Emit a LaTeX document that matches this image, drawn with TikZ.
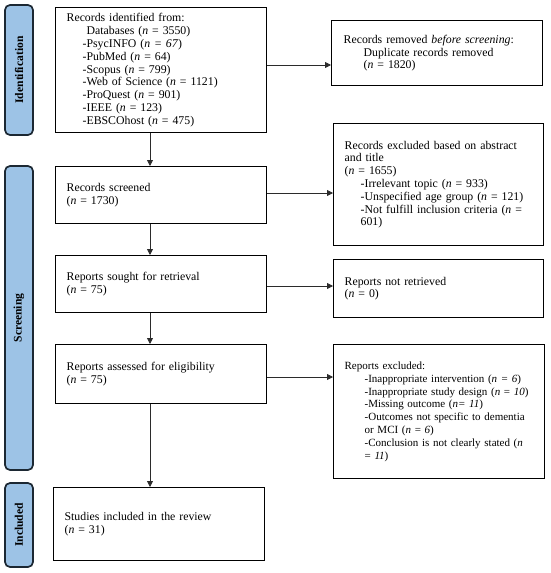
\documentclass[tikz,border=0pt]{standalone}
\usepackage{fontspec}
\setmainfont{Liberation Serif}
\usetikzlibrary{arrows.meta}
\definecolor{barfill}{HTML}{9DC3E6}
\definecolor{barline}{HTML}{1C2833}
\definecolor{arrcol}{HTML}{2B2B2B}
\newcommand{\nn}{\textit{n}}
\newcommand{\ind}{\hspace*{16pt}}
\begin{document}
\begin{tikzpicture}[x=1pt,y=-1pt,
  box/.style={draw=black, line width=1.3pt, anchor=north west, align=left,
    inner xsep=11pt, inner ysep=2pt, font=\fontsize{11.8}{12.8}\selectfont},
  smallbox/.style={box, font=\fontsize{11}{12.8}\selectfont},
  phase/.style={draw=barline, line width=1.7pt, fill=barfill, rounded corners=5pt,
    rotate=90, minimum height=28pt, inner sep=0pt, font=\bfseries\fontsize{11.6}{12}\selectfont},
  flow/.style={draw=arrcol, line width=0.8pt, -{Triangle[length=6pt,width=6pt]}}]
\useasboundingbox (0,0) rectangle (550,573);

% phase bars
\node[phase, minimum width=130pt] (pid) at (19,70) {Identification};
\node[phase, minimum width=304pt] (psc) at (19,318) {Screening};
\node[phase, minimum width=84pt] (pin) at (19,525) {Included};

% left column
\node[box, text width=189pt, minimum height=125pt] (b1) at (55,7)
{Records identified from:\\
\hspace*{20pt}Databases (\nn{} = 3550)\\
\ind-PsycINFO (\textit{n = 67})\\
\ind-PubMed (\nn{} = 64)\\
\ind-Scopus (\nn{} = 799)\\
\ind-Web of Science (\nn{} = 1121)\\
\ind-ProQuest (\nn{} = 901)\\
\ind-IEEE (\nn{} = 123)\\
\ind-EBSCOhost (\nn{} = 475)};

\node[box, text width=189pt, minimum height=57pt] (b2) at (55,166)
{Records screened\\(\nn{} = 1730)};

\node[box, text width=189pt, minimum height=57pt] (b3) at (55,255)
{Reports sought for retrieval\\(\nn{} = 75)};

\node[box, text width=189pt, minimum height=59pt] (b4) at (55,344)
{Reports assessed for eligibility\\(\nn{} = 75)};

\node[box, text width=189pt, minimum height=73pt] (b5) at (53,487)
{Studies included in the review\\(\nn{} = 31)};

% right column
\node[box, inner xsep=12pt, text width=187pt, minimum height=65pt] (r1) at (331,20)
{Records removed \textit{before screening}:\\
\hspace*{20pt}Duplicate records removed\\
\hspace*{20pt}(\nn{} = 1820)};

\node[box, text width=188pt, minimum height=122pt] (r2) at (333,123)
{Records excluded based on abstract\\
and title\\
(\nn{} = 1655)\\
\ind-Irrelevant topic (\nn{} = 933)\\
\ind-Unspecified age group (\nn{} = 121)\\
\ind-Not fulfill inclusion criteria (\nn{} =\\
\ind 601)};

\node[box, text width=188pt, minimum height=58pt] (r3) at (333,259)
{Reports not retrieved\\(\nn{} = 0)};

\node[smallbox, text width=189pt, minimum height=134pt] (r4) at (333,344)
{Reports excluded:\\
\hspace*{20pt}-Inappropriate intervention (\textit{n = 6})\\
\hspace*{20pt}-Inappropriate study design (\nn{} = \textit{10})\\
\hspace*{20pt}-Missing outcome (\textit{n= 11})\\
\hspace*{20pt}-Outcomes not specific to dementia\\
\hspace*{20pt}or MCI (\nn{} = \textit{6})\\
\hspace*{20pt}-Conclusion is not clearly stated (\nn\\
\hspace*{20pt}= \textit{11})};

% column coordinate for vertical arrows
\coordinate (col) at (150,0);

% vertical flow
\draw[flow] (b1.south -| col) -- (b2.north -| col);
\draw[flow] (b2.south -| col) -- (b3.north -| col);
\draw[flow] (b3.south -| col) -- (b4.north -| col);
\draw[flow] (b4.south -| col) -- (b5.north -| col);

% horizontal flow
\coordinate (h1) at (0,65);
\coordinate (h2) at (0,193);
\coordinate (h3) at (0,286);
\coordinate (h4) at (0,377);
\draw[flow] (b1.east |- h1) -- (r1.west |- h1);
\draw[flow] (b2.east |- h2) -- (r2.west |- h2);
\draw[flow] (b3.east |- h3) -- (r3.west |- h3);
\draw[flow] (b4.east |- h4) -- (r4.west |- h4);
\end{tikzpicture}
\end{document}
